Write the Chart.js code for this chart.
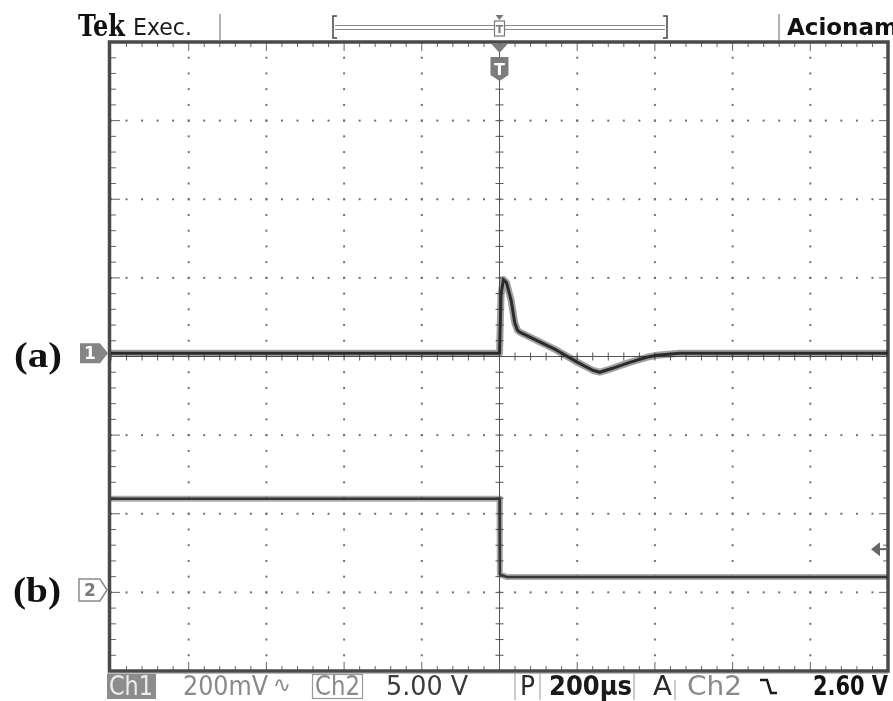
<!DOCTYPE html>
<html lang="pt">
<head>
<meta charset="UTF-8">
<title>Tek Exec. - Acionamento</title>
<script src="https://cdn.jsdelivr.net/npm/chart.js"></script>
<style>
  html, body { margin: 0; padding: 0; background: #fff; overflow: hidden; }
  canvas { display: block; }
</style>
</head>
<body>
<canvas id="scope" width="893" height="701"></canvas>
<script>
// time base and channel settings
const timePerDivUs = 200;
const ch1mVPerDiv = 200;
const ch2VoltsPerDiv = 5;
const triggerLevelV = 2.6;

// trace (a): Ch1, mV against time in µs (trigger at 0)
const ch1TimeUs = [-1000, 0, 4, 10, 18, 30, 39, 46, 52, 147, 201, 240, 258, 291, 335, 379, 405, 464, 1000];
const ch1mV     = [0, 0, 150, 188, 180, 135, 79, 59, 54, 8, -23, -43, -48, -38, -23, -10, -5, 0, 0];

// trace (b): Ch2, volts against time in µs
const ch2TimeUs = [-1000, 0, 1, 6, 20, 1000];
const ch2Volts  = [5.8, 5.8, 1.0, 0.95, 0.82, 0.82];

// ground marker positions, in divisions from screen centre
const ch1PosDiv = 0.04;
const ch2PosDiv = -2.97;

const ch1Points = ch1TimeUs.map((t, i) => ({ x: t, y: ch1mV[i] / ch1mVPerDiv + ch1PosDiv }));
const ch2Points = ch2TimeUs.map((t, i) => ({ x: t, y: ch2Volts[i] / ch2VoltsPerDiv + ch2PosDiv }));

function fitText(ctx, txt, x, y, w, font, color) {
    ctx.save();
    ctx.font = font;
    ctx.fillStyle = color;
    ctx.textBaseline = 'alphabetic';
    const m = ctx.measureText(txt).width;
    ctx.translate(x, y);
    ctx.scale(w / m, 1);
    ctx.fillText(txt, 0, 0);
    ctx.restore();
}

function line(ctx, x1, y1, x2, y2) {
    ctx.beginPath();
    ctx.moveTo(x1, y1);
    ctx.lineTo(x2, y2);
    ctx.stroke();
}

const graticule = {
    id: 'graticule',
    beforeDatasetsDraw(chart) {
        const ctx = chart.ctx, a = chart.chartArea;
        const xs = chart.scales.x, ys = chart.scales.y;
        const xMin = -5 * timePerDivUs, xMinor = timePerDivUs / 5;
        ctx.save();

        // dotted major lines
        ctx.fillStyle = '#707070';
        for (let i = 1; i < 10; i++) {
            if (i === 5) continue;
            const px = xs.getPixelForValue(xMin + i * timePerDivUs);
            for (let j = 0; j <= 40; j++) {
                const py = ys.getPixelForValue(-4 + j / 5);
                ctx.fillRect(px - 1, py - 1, 2, 2);
            }
        }
        for (let i = -3; i <= 3; i++) {
            if (i === 0) continue;
            const py = ys.getPixelForValue(i);
            for (let j = 0; j <= 50; j++) {
                const px = xs.getPixelForValue(xMin + j * xMinor);
                ctx.fillRect(px - 1, py - 1, 2, 2);
            }
        }

        // centre cross with ticks
        const cx = xs.getPixelForValue(0), cy = ys.getPixelForValue(0);
        ctx.strokeStyle = '#555';
        ctx.lineWidth = 1;
        line(ctx, cx, a.top, cx, a.bottom);
        line(ctx, a.left, cy, a.right, cy);
        for (let j = 0; j <= 40; j++) {
            const py = ys.getPixelForValue(-4 + j / 5);
            line(ctx, cx - 4, py, cx + 4, py);
        }
        for (let j = 0; j <= 50; j++) {
            const px = xs.getPixelForValue(xMin + j * xMinor);
            line(ctx, px, cy - 4, px, cy + 4);
        }

        // border ticks
        ctx.strokeStyle = '#666';
        for (let j = 1; j < 50; j++) {
            const px = xs.getPixelForValue(xMin + j * xMinor);
            const len = j % 5 === 0 ? 9 : 5;
            line(ctx, px, a.top, px, a.top + len);
            line(ctx, px, a.bottom, px, a.bottom - len);
        }
        for (let j = 1; j < 40; j++) {
            const py = ys.getPixelForValue(-4 + j / 5);
            const len = j % 5 === 0 ? 9 : 5;
            line(ctx, a.left, py, a.left + len, py);
            line(ctx, a.right, py, a.right - len, py);
        }

        // frame
        ctx.strokeStyle = '#4a4a4a';
        ctx.lineWidth = 3.5;
        ctx.strokeRect(a.left - 1.5, a.top, a.right - a.left + 1.5, a.bottom - a.top);
        ctx.restore();
    }
};

const overlay = {
    id: 'overlay',
    afterDraw(chart) {
        const ctx = chart.ctx, a = chart.chartArea;
        const xs = chart.scales.x, ys = chart.scales.y;
        const cx = xs.getPixelForValue(0);
        ctx.save();

        // header
        fitText(ctx, 'Tek', 78, 36, 47, 'bold 30px "DejaVu Serif"', '#111');
        fitText(ctx, 'Exec.', 133, 35, 59, '23px "DejaVu Sans"', '#1a1a1a');
        ctx.font = 'bold 23px "DejaVu Sans"';
        ctx.fillStyle = '#111';
        ctx.fillText('Acionam', 787, 35);

        ctx.strokeStyle = '#999';
        ctx.lineWidth = 1.5;
        line(ctx, 220, 14, 220, 40);
        line(ctx, 779, 14, 779, 40);

        // record bracket bar
        ctx.lineWidth = 1;
        ctx.strokeStyle = '#8a8a8a';
        line(ctx, 335, 25.5, 665, 25.5);
        line(ctx, 335, 29.5, 665, 29.5);
        ctx.strokeStyle = '#444';
        ctx.lineWidth = 1.5;
        ctx.beginPath();
        ctx.moveTo(337, 16); ctx.lineTo(333, 16); ctx.lineTo(333, 38); ctx.lineTo(337, 38);
        ctx.moveTo(663, 16); ctx.lineTo(667, 16); ctx.lineTo(667, 38); ctx.lineTo(663, 38);
        ctx.stroke();

        // small trigger marker on bar
        ctx.fillStyle = '#fff';
        ctx.fillRect(cx - 5, 21, 10, 15);
        ctx.strokeStyle = '#777';
        ctx.lineWidth = 1.2;
        ctx.strokeRect(cx - 5, 21, 10, 15);
        ctx.fillStyle = '#777';
        ctx.beginPath();
        ctx.moveTo(cx - 4, 15); ctx.lineTo(cx + 4, 15); ctx.lineTo(cx, 20); ctx.closePath();
        ctx.fill();
        ctx.font = 'bold 11px "DejaVu Sans"';
        ctx.textAlign = 'center';
        ctx.fillText('T', cx, 33);

        // trigger position marker below frame
        ctx.fillStyle = '#7c7c7c';
        ctx.beginPath();
        ctx.moveTo(cx - 8, a.top + 2); ctx.lineTo(cx + 8, a.top + 2); ctx.lineTo(cx, a.top + 11); ctx.closePath();
        ctx.fill();
        ctx.beginPath();
        ctx.moveTo(cx - 9, a.top + 15);
        ctx.lineTo(cx + 9, a.top + 15);
        ctx.lineTo(cx + 9, a.top + 33);
        ctx.lineTo(cx, a.top + 39);
        ctx.lineTo(cx - 9, a.top + 33);
        ctx.closePath();
        ctx.fill();
        ctx.fillStyle = '#fff';
        ctx.font = 'bold 16px "DejaVu Sans"';
        ctx.fillText('T', cx, a.top + 33);
        ctx.textAlign = 'left';

        // channel ground markers
        const y1 = ys.getPixelForValue(ch1PosDiv);
        ctx.fillStyle = '#858585';
        ctx.beginPath();
        ctx.moveTo(80, y1 - 10); ctx.lineTo(100, y1 - 10); ctx.lineTo(108, y1);
        ctx.lineTo(100, y1 + 10); ctx.lineTo(80, y1 + 10); ctx.closePath();
        ctx.fill();
        ctx.fillStyle = '#fff';
        ctx.font = 'bold 17px "DejaVu Sans"';
        ctx.textAlign = 'center';
        ctx.fillText('1', 90, y1 + 6);

        const y2 = ys.getPixelForValue(ch2PosDiv);
        ctx.fillStyle = '#fff';
        ctx.strokeStyle = '#8a8a8a';
        ctx.lineWidth = 1.5;
        ctx.beginPath();
        ctx.moveTo(79, y2 - 11); ctx.lineTo(100, y2 - 11); ctx.lineTo(107, y2);
        ctx.lineTo(100, y2 + 11); ctx.lineTo(79, y2 + 11); ctx.closePath();
        ctx.fill();
        ctx.stroke();
        ctx.fillStyle = '#7a7a7a';
        ctx.font = 'bold 17px "DejaVu Sans"';
        ctx.fillText('2', 90, y2 + 6);
        ctx.textAlign = 'left';

        // trace labels
        fitText(ctx, '(a)', 14, 367, 48, 'bold 36px "Liberation Serif"', '#111');
        fitText(ctx, '(b)', 13, 602, 48, 'bold 36px "Liberation Serif"', '#111');

        // trigger level marker
        const yt = ys.getPixelForValue(triggerLevelV / ch2VoltsPerDiv + ch2PosDiv);
        ctx.fillStyle = '#666';
        ctx.beginPath();
        ctx.moveTo(871, yt); ctx.lineTo(880, yt - 7); ctx.lineTo(880, yt + 7); ctx.closePath();
        ctx.fill();
        ctx.strokeStyle = '#666';
        ctx.lineWidth = 2;
        line(ctx, 879, yt, a.right, yt);

        // status bar
        ctx.strokeStyle = '#bbb';
        ctx.lineWidth = 1;
        line(ctx, 107, 673.5, a.right, 673.5);
        ctx.fillStyle = '#8c8c8c';
        ctx.fillRect(107, 674, 49, 25);
        fitText(ctx, 'Ch1', 109, 695, 44, '26px "DejaVu Sans"', '#ececec');
        fitText(ctx, '200mV', 183, 695, 85, '26px "DejaVu Sans"', '#8a8a8a');
        fitText(ctx, '\u223F', 273, 692, 18, '22px "DejaVu Sans"', '#8a8a8a');
        ctx.strokeStyle = '#9a9a9a';
        ctx.lineWidth = 1.2;
        ctx.strokeRect(312.5, 674.5, 50, 24);
        fitText(ctx, 'Ch2', 315, 695, 45, '26px "DejaVu Sans"', '#8a8a8a');
        fitText(ctx, '5.00 V', 386, 695, 82, '26px "DejaVu Sans"', '#3c3c3c');

        ctx.strokeStyle = '#aaa';
        line(ctx, 515, 673, 515, 700);
        line(ctx, 540, 673, 540, 700);
        line(ctx, 634, 673, 634, 700);
        line(ctx, 675, 680, 675, 700);
        fitText(ctx, 'P', 520, 695, 15, '26px "DejaVu Sans"', '#2a2a2a');
        fitText(ctx, '200\u00B5s', 549, 695, 83, 'bold 26px "DejaVu Sans"', '#1a1a1a');
        fitText(ctx, 'A', 653, 695, 19, '26px "DejaVu Sans"', '#2a2a2a');
        fitText(ctx, 'Ch2', 687, 695, 55, '26px "DejaVu Sans"', '#8a8a8a');

        // falling slope symbol
        ctx.strokeStyle = '#1a1a1a';
        ctx.lineWidth = 2.5;
        ctx.beginPath();
        ctx.moveTo(760, 680); ctx.lineTo(767, 680); ctx.lineTo(771, 693); ctx.lineTo(777, 693);
        ctx.stroke();

        fitText(ctx, '2.60 V', 813, 695, 75, 'bold 26px "DejaVu Sans"', '#111');
        ctx.restore();
    }
};

new Chart(document.getElementById('scope'), {
    type: 'line',
    data: {
        datasets: [
            { data: ch1Points, borderColor: 'rgba(45,45,45,0.45)', borderWidth: 7 },
            { data: ch1Points, borderColor: '#2b2b2b', borderWidth: 3 },
            { data: ch2Points, borderColor: 'rgba(55,55,55,0.42)', borderWidth: 6 },
            { data: ch2Points, borderColor: '#353535', borderWidth: 2.5 }
        ]
    },
    options: {
        responsive: false,
        animation: false,
        events: [],
        elements: { point: { radius: 0 }, line: { tension: 0, borderJoinStyle: 'round' } },
        layout: { padding: { left: 111, right: 5, top: 42, bottom: 30 } },
        plugins: { legend: { display: false }, tooltip: { enabled: false } },
        scales: {
            x: { type: 'linear', min: -5 * timePerDivUs, max: 5 * timePerDivUs, display: false },
            y: { type: 'linear', min: -4, max: 4, display: false }
        }
    },
    plugins: [graticule, overlay]
});
</script>
</body>
</html>
